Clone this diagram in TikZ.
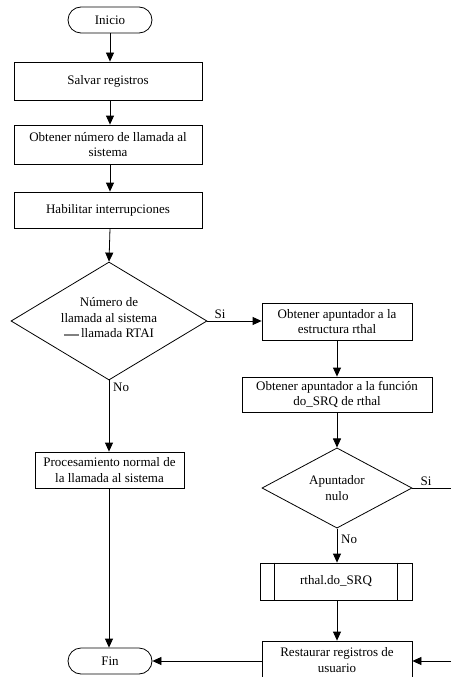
\documentclass[tikz,border=0pt]{standalone}
\usepackage{fontspec}
\setmainfont{Liberation Serif}
\usetikzlibrary{shapes.geometric,arrows.meta}
\begin{document}
\begin{tikzpicture}[x=1pt,y=-1pt,
  every node/.style={font=\fontsize{13}{15.5}\selectfont},
  proc/.style={draw,line width=0.8pt,rectangle,inner sep=0pt,align=center},
  term/.style={draw,line width=0.8pt,rectangle,rounded corners=13pt,minimum width=84pt,minimum height=26pt,inner sep=0pt},
  dec/.style={draw,line width=0.8pt,diamond,inner sep=0pt,align=center},
  flow/.style={line width=0.8pt,-{Triangle[length=9pt,width=8pt]}},
  plain/.style={line width=0.8pt},
  lbl/.style={inner sep=0pt}]
\useasboundingbox (0,0) rectangle (451,677);
\clip (0,0) rectangle (451,677);
\fill[white] (0,0) rectangle (451,677);
% left column
\node[term] (ini) at (110,20) {Inicio};
\node[proc,minimum width=188pt,minimum height=38pt] (salv) at (108,81) {Salvar registros};
\node[proc,minimum width=188pt,minimum height=39pt] (num) at (108,144.5) {Obtener número de llamada al\\sistema};
\node[proc,minimum width=188pt,minimum height=36pt] (hab) at (108,210) {Habilitar interrupciones};
\node[dec,minimum width=196pt,minimum height=118pt] (d1) at (109,321) {};
\node[lbl,align=center] (d1t) at (109,318) {Número de\\llamada al sistema\\{\color{gray}\rule[0.3ex]{15pt}{2.6pt}}\,llamada RTAI};
\node[proc,minimum width=149pt,minimum height=36pt] (norm) at (109.5,470) {Procesamiento normal de\\la llamada al sistema};
\node[term] (fin) at (110,661) {Fin};
% right column
\node[proc,minimum width=150pt,minimum height=37pt] (est) at (337,321.5) {Obtener apuntador a la\\estructura rthal};
\node[proc,minimum width=190pt,minimum height=35pt] (fun) at (337,394.5) {Obtener apuntador a la función\\do\_SRQ de rthal};
\node[dec,minimum width=150pt,minimum height=72pt] (d2) at (337,488) {Apuntador\\nulo};
\node[proc,minimum width=152pt,minimum height=37pt] (srq) at (336,581.5) {rthal.do\_SRQ};
\draw[plain] ([xshift=15pt]srq.north west) -- ([xshift=15pt]srq.south west);
\draw[plain] ([xshift=-15pt]srq.north east) -- ([xshift=-15pt]srq.south east);
\node[proc,minimum width=150pt,minimum height=38pt] (rest) at (337,660) {Restaurar registros de\\usuario};
\coordinate (e1) at (451,488);
\coordinate (e2) at (451,661);
% connectors
\draw[flow] (ini.south) -- (salv.north -| ini.south);
\draw[flow] (salv.south -| ini.south) -- (num.north -| ini.south);
\draw[flow] (num.south -| ini.south) -- (hab.north -| ini.south);
\draw[flow] (hab.south -| ini.south) -- (d1.north);
\draw[flow] (d1.south) -- (norm.north -| d1.south);
\node[lbl,anchor=north west] at ([xshift=4pt,yshift=-2pt]d1.south) {No};
\draw[flow] (norm.south -| d1.south) -- (fin.north -| d1.south);
\draw[flow] (d1.east) -- (est.west |- d1.east);
\node[lbl,anchor=south west] at ([xshift=7pt,yshift=2pt]d1.east) {Si};
\draw[flow] (est.south) -- (fun.north);
\draw[flow] (fun.south) -- (d2.north);
\draw[flow] (d2.south) -- (srq.north -| d2.south);
\node[lbl,anchor=north west] at ([xshift=4pt,yshift=-6pt]d2.south) {No};
\draw[flow] (srq.south -| d2.south) -- (rest.north);
\draw[plain] (d2.east) -- (e1);
\node[lbl,anchor=south west] at ([xshift=8pt,yshift=2pt]d2.east) {Si};
\draw[flow] (e2) -- (rest.east |- e2);
\draw[flow] (rest.west |- fin.east) -- (fin.east);
\end{tikzpicture}
\end{document}
